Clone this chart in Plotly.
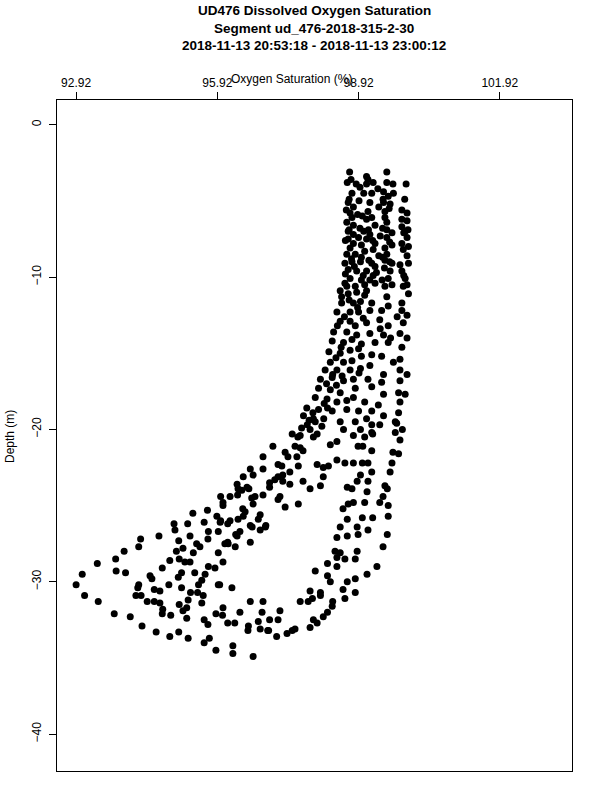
import plotly.graph_objects as go

title_lines = [
    "UD476 Dissolved Oxygen Saturation",
    "Segment ud_476-2018-315-2-30",
    "2018-11-13 20:53:18 - 2018-11-13 23:00:12",
]
x_title = "Oxygen Saturation (%)"
y_title = "Depth (m)"
x_ticks = [92.92, 95.92, 98.92, 101.92]
x_ticktext = ["92.92", "95.92", "98.92", "101.92"]
y_ticks = [0, -10, -20, -30, -40]
y_ticktext = ["0", "\u221210", "\u221220", "\u221230", "\u221240"]

# Oxygen saturation (%) and depth (m)
saturation_upper = [
    98.73, 99.52, 99.09, 98.68, 98.87, 99.09, 99.23, 99.52, 99.65, 99.93,
    98.78, 99.03, 99.20, 99.45, 99.55, 99.66, 98.70, 98.81, 99.16, 99.12,
    99.45, 99.59, 99.48, 99.84, 99.95, 98.74, 98.78, 98.67, 98.81, 99.09,
    99.20, 99.27, 99.48, 99.52, 99.84, 99.95, 99.84, 99.91, 98.70, 98.81,
    99.03, 99.16, 99.52, 99.63, 99.52, 99.95, 99.84, 98.70, 98.81, 98.98,
    99.27, 99.09, 98.74, 98.67, 98.85, 99.05, 99.23, 99.48, 99.63, 99.52,
    99.87, 99.95, 98.78, 98.63, 98.96, 99.20, 99.27, 99.48, 99.63, 99.80,
    99.98, 98.70, 98.88, 99.09, 99.30, 99.59, 99.55, 99.84, 99.91, 98.74,
    98.98, 99.16, 98.67, 98.85, 99.05, 99.27, 99.48, 99.63, 99.87,
    98.76, 98.95, 98.72, 98.93, 98.66, 98.90, 99.00, 98.72, 98.95, 99.13,
    98.64, 98.92, 99.22, 98.77, 98.98, 99.14, 98.64, 98.83, 99.02, 99.23,
    99.44, 99.57, 99.90, 99.97, 99.43, 99.58, 99.88, 99.43, 99.98, 99.47,
    99.88, 99.42, 99.58, 99.35, 99.33, 99.38, 99.35, 99.12,
]
depth_upper = [
    -3.1, -3.1, -3.4, -3.8, -3.9, -3.9, -3.8, -3.8, -3.9, -3.9,
    -4.5, -4.5, -4.5, -4.4, -4.7, -4.5, -5.1, -5.4, -5.1, -5.7,
    -5.1, -5.2, -5.7, -5.6, -5.8, -5.8, -6.1, -6.4, -6.6, -6.2,
    -6.1, -6.6, -6.1, -6.4, -6.2, -6.3, -6.7, -7.0, -7.0, -7.2,
    -7.0, -7.2, -6.9, -7.1, -7.4, -7.4, -7.8, -7.5, -7.8, -7.9,
    -7.8, -7.5, -8.1, -8.5, -8.5, -8.3, -8.2, -8.1, -7.9, -8.5,
    -8.2, -8.6, -9.0, -9.1, -9.0, -9.1, -9.3, -8.9, -9.1, -9.2,
    -9.1, -9.5, -9.6, -9.6, -9.7, -9.6, -10.1, -9.6, -10.1, -10.1,
    -10.2, -10.2, -10.6, -10.6, -10.5, -10.4, -10.6, -10.5, -10.6,
    -3.6, -4.1, -4.9, -5.0, -5.6, -5.9, -6.0, -6.9, -6.8, -6.9,
    -7.6, -7.4, -7.6, -8.8, -8.7, -8.9, -9.8, -9.3, -9.9, -9.9,
    -4.9, -5.5, -4.9, -6.9, -6.8, -7.7, -7.1, -8.7, -8.0, -9.4,
    -9.9, -10.2, -9.0, -5.4, -4.2, -7.3, -8.6, -3.6,
]

saturation_middle = [
    98.63, 99.95, 98.53, 98.70, 98.88, 99.09, 99.52, 99.98, 98.56, 98.81,
    98.96, 99.20, 99.55, 99.84, 98.46, 98.74, 98.92, 99.16, 99.41, 99.84,
    99.95, 98.53, 98.74, 98.85, 99.09, 99.37, 99.55, 99.87, 98.39, 98.67,
    98.88, 99.16, 99.45, 99.80, 99.95, 98.36, 98.60, 98.78, 98.98, 99.27,
    99.55, 99.84, 98.29, 98.53, 98.74, 98.98, 99.20, 99.41, 99.80, 98.78,
    98.60, 98.32, 98.21, 98.46, 98.74, 98.96, 99.16, 99.45, 99.80, 99.95,
    98.11, 98.36, 98.60, 98.81, 99.12, 99.41, 99.80, 98.07, 98.32, 98.53,
    98.85, 99.20, 99.45, 99.77, 99.91, 98.00, 98.25, 98.46, 98.81, 99.05,
    99.34, 99.80, 97.82, 98.07, 98.36, 98.67, 98.92, 99.20, 99.45, 99.77,
    97.75, 97.96, 98.18, 98.53, 98.85, 99.09, 99.37, 99.73, 97.71, 97.89,
    98.14, 98.60, 98.96, 99.20, 99.70, 97.68, 98.04, 98.81,
    98.56, 98.72, 99.05, 98.90, 98.62, 98.47, 99.02, 98.55, 98.44, 98.92,
    98.37, 98.57, 98.24, 98.93, 98.45, 98.19, 98.67, 97.95, 98.26, 97.87,
    99.74, 99.60, 99.66, 99.38,
]
depth_middle = [
    -10.4, -10.5, -10.9, -11.1, -11.0, -10.9, -11.3, -11.1, -11.7, -11.7,
    -11.6, -11.7, -11.9, -11.7, -12.3, -12.3, -12.3, -12.2, -12.2, -12.2,
    -12.5, -12.9, -12.9, -13.2, -13.0, -12.8, -13.2, -13.0, -13.6, -13.6,
    -13.8, -13.7, -13.8, -13.7, -14.0, -14.2, -14.3, -14.1, -14.4, -14.3,
    -14.3, -14.6, -14.9, -15.0, -14.8, -15.2, -15.1, -15.2, -15.4, -15.5,
    -15.6, -15.6, -16.1, -16.1, -16.1, -16.0, -15.8, -16.4, -16.1, -16.4,
    -16.7, -16.6, -16.8, -16.7, -16.7, -16.9, -16.8, -17.3, -17.4, -17.6,
    -17.3, -17.2, -17.7, -17.6, -17.7, -17.9, -18.0, -18.2, -17.9, -18.2,
    -18.4, -18.2, -18.6, -18.7, -18.8, -18.7, -18.8, -18.8, -19.1, -18.9,
    -19.1, -19.3, -19.3, -19.5, -19.5, -19.3, -19.7, -19.6, -19.9, -20.0,
    -19.8, -20.0, -20.0, -20.2, -20.2, -20.4, -20.3, -20.4,
    -11.3, -11.5, -11.2, -12.0, -12.6, -13.2, -12.7, -14.6, -15.3, -14.7,
    -16.4, -16.5, -17.0, -16.3, -17.1, -18.3, -18.1, -18.9, -18.6, -19.4,
    -12.6, -14.0, -15.6, -13.4,
]

saturation_lower_right = [
    97.83, 98.00, 97.51, 97.63, 97.96, 97.10, 97.36, 97.57, 97.68, 97.74,
    97.61, 97.42, 96.89, 97.21, 97.29, 97.64, 97.46, 97.31, 96.62, 96.68,
    96.89, 96.47, 97.03, 97.14, 97.21, 97.31, 97.46, 97.74, 96.36, 96.55,
    96.34, 96.19, 96.04, 96.72, 96.68, 96.89, 97.03, 97.25, 97.21, 97.36,
    97.64, 97.89, 98.11, 98.17, 98.04, 98.28, 96.83, 96.79, 96.51, 96.47,
    96.19, 96.36, 96.66, 96.83, 96.94, 96.34, 96.40, 96.14, 96.08, 96.30,
    96.62, 96.04, 96.23, 95.97, 98.32, 98.46, 98.46, 98.17, 98.91, 99.05,
    98.63, 98.81, 99.00, 98.96, 98.89, 99.12, 98.68, 98.78, 99.10, 98.70,
    98.59, 98.81, 99.05, 99.22, 99.00, 98.68, 98.53, 98.89, 99.12, 98.46,
    98.68, 98.91, 98.42, 98.63, 98.85, 98.89, 98.53, 98.46, 98.26, 98.00,
    98.46, 98.26, 98.32, 98.68, 98.85, 98.59, 98.11, 97.89, 97.94, 98.11,
    97.68, 97.85, 98.36, 98.26, 98.17, 97.96, 98.04, 97.89, 97.57, 97.51,
    97.40, 97.18, 96.99, 96.83, 96.57, 96.40, 96.62, 96.89, 96.87, 97.25,
    97.21, 97.03, 96.29, 96.14, 96.04, 96.25, 96.25, 96.68, 99.10, 99.31,
    99.44, 99.53, 99.55, 99.37, 99.44, 99.48, 99.59, 99.63, 99.80, 99.85,
    99.20, 99.22, 99.01, 99.20, 99.12, 99.20, 98.85, 98.63, 98.37, 99.70,
    99.77, 99.65, 99.53, 99.55,
]
depth_lower_right = [
    -19.7, -19.5, -20.3, -20.5, -20.5, -21.1, -21.5, -21.1, -21.2, -21.4,
    -21.8, -21.8, -21.8, -22.3, -22.4, -22.4, -22.8, -23.0, -22.6, -23.0,
    -22.6, -23.1, -23.5, -23.3, -23.1, -23.4, -23.6, -23.4, -23.9, -23.8,
    -23.6, -24.4, -24.8, -24.4, -24.9, -24.3, -23.8, -24.4, -24.6, -25.1,
    -24.9, -23.9, -23.7, -23.1, -22.3, -22.4, -25.6, -25.9, -25.4, -25.7,
    -26.0, -25.9, -26.4, -26.6, -26.4, -27.0, -26.7, -27.4, -27.5, -27.7,
    -27.4, -28.7, -30.4, -30.2, -21.0, -20.8, -22.0, -22.5, -21.1, -20.5,
    -22.2, -22.2, -22.2, -23.0, -23.4, -23.4, -23.8, -23.9, -24.1, -24.9,
    -25.2, -24.8, -24.8, -25.8, -25.8, -25.9, -26.4, -26.4, -26.6, -27.1,
    -27.0, -26.9, -28.0, -28.5, -28.5, -28.0, -28.1, -28.4, -28.8, -29.3,
    -29.0, -29.6, -30.0, -30.0, -29.8, -30.5, -30.7, -30.6, -31.1, -30.9,
    -31.3, -31.3, -31.6, -32.0, -32.3, -32.5, -32.7, -33.0, -33.1, -33.2,
    -33.4, -33.6, -33.2, -33.1, -33.2, -32.0, -31.3, -31.3, -32.0, -31.9,
    -32.5, -32.5, -32.7, -32.7, -31.7, -34.2, -34.7, -34.9, -29.5, -29.0,
    -27.7, -26.9, -25.7, -24.8, -24.4, -23.7, -22.8, -22.2, -20.7, -20.0,
    -19.7, -20.3, -21.1, -21.4, -22.2, -22.8, -30.7, -31.1, -31.3, -19.5,
    -21.6, -21.5, -23.9, -25.0,
]

saturation_lower_left = [
    96.44, 96.59, 96.35, 95.99, 96.04, 96.65, 96.46, 95.71, 95.40, 95.91,
    95.99, 96.14, 95.64, 95.29, 95.00, 95.02, 95.73, 95.94, 96.31, 96.62,
    94.68, 94.29, 95.34, 95.98, 96.95, 94.25, 93.94, 93.76, 93.37, 93.05,
    92.92, 93.10, 93.39, 93.77, 93.97, 93.73, 94.07, 94.32, 94.62, 94.91,
    95.10, 95.30, 95.64, 95.75, 95.89, 95.10, 95.19, 95.05, 95.48, 95.55,
    95.41, 95.72, 95.94, 96.15, 95.87, 95.73, 95.66, 95.59, 95.52, 94.91,
    95.11, 95.23, 95.34, 95.44, 95.16, 95.09, 94.75, 94.49, 94.53, 94.89,
    95.16, 95.35, 95.50, 95.62, 95.59, 95.30, 95.11, 95.27, 95.19, 94.76,
    94.75, 94.93, 94.70, 94.58, 94.43, 94.58, 94.70, 94.25, 94.23, 94.19,
    94.30, 95.27, 95.64, 95.72, 95.89, 96.03, 96.58, 96.79, 97.01, 95.94,
]
depth_lower_left = [
    -24.0, -23.9, -24.3, -24.4, -25.0, -24.5, -25.2, -25.3, -25.5, -25.7,
    -26.0, -26.2, -26.1, -26.2, -26.2, -26.6, -26.7, -26.7, -26.9, -26.3,
    -27.0, -27.2, -27.0, -26.1, -26.3, -27.7, -28.0, -28.5, -28.8, -29.5,
    -30.2, -30.9, -31.3, -29.3, -29.4, -32.1, -32.3, -32.9, -33.3, -33.6,
    -33.3, -33.7, -34.0, -33.7, -34.5, -27.3, -27.8, -28.0, -27.5, -27.7,
    -28.1, -27.2, -28.1, -27.5, -29.1, -29.0, -29.5, -29.9, -30.2, -28.6,
    -28.5, -28.7, -28.7, -29.4, -29.4, -29.7, -29.1, -29.6, -29.8, -30.2,
    -30.4, -30.7, -30.7, -30.9, -31.4, -31.2, -31.5, -31.7, -31.9, -31.8,
    -32.1, -32.2, -31.4, -31.3, -31.3, -30.5, -30.6, -30.2, -30.4, -30.9,
    -30.9, -32.4, -32.5, -32.8, -32.1, -32.2, -32.9, -32.6, -33.2, -30.2,
]

saturation = saturation_upper + saturation_middle + saturation_lower_right + saturation_lower_left
depth = depth_upper + depth_middle + depth_lower_right + depth_lower_left

font_family = "Liberation Sans, Arial, Helvetica, sans-serif"

fig = go.Figure()
fig.add_trace(go.Scatter(
    x=saturation, y=depth, mode="markers",
    marker=dict(color="black", size=7, line=dict(width=0)),
    showlegend=False, hoverinfo="x+y",
))

plot_top, plot_bottom, plot_left, plot_right = 100, 771, 57, 572
ph = plot_bottom - plot_top
pw = plot_right - plot_left

def py(p):
    return (plot_bottom - p) / ph

def px(p):
    return (p - plot_left) / pw

annotations = []
for line, ypix in zip(title_lines, [10.5, 28, 45.5]):
    annotations.append(dict(
        text="<b>" + line + "</b>", x=px(314), y=py(ypix), xref="paper", yref="paper",
        xanchor="center", yanchor="middle", showarrow=False,
        font=dict(family=font_family, size=13.5, color="black"),
    ))
annotations.append(dict(
    text=x_title, x=px(229), y=py(79), xref="paper", yref="paper",
    xanchor="left", yanchor="middle", showarrow=False,
    font=dict(family=font_family, size=12, color="black"),
))
annotations.append(dict(
    text=y_title, x=px(10), y=py(437), xref="paper", yref="paper",
    xanchor="center", yanchor="middle", showarrow=False, textangle=-90,
    font=dict(family=font_family, size=12, color="black"),
))

fig.update_layout(
    width=600, height=800,
    margin=dict(l=plot_left, r=600 - plot_right, t=plot_top, b=800 - plot_bottom, pad=0),
    paper_bgcolor="white", plot_bgcolor="white",
    font=dict(family=font_family, size=12, color="black"),
    annotations=annotations,
    xaxis=dict(
        range=[92.514, 103.454], side="top",
        tickvals=x_ticks, ticktext=x_ticktext,
        ticks="outside", ticklen=7, tickwidth=1, tickcolor="black",
        showline=True, linecolor="black", linewidth=1, mirror=True,
        showgrid=False, zeroline=False,
        tickfont=dict(family=font_family, size=12, color="black"),
    ),
    yaxis=dict(
        range=[-42.42, 1.62],
        tickvals=y_ticks, ticktext=y_ticktext, tickangle=-90,
        ticks="outside", ticklen=7, tickwidth=1, tickcolor="black",
        ticklabelstandoff=3,
        showline=True, linecolor="black", linewidth=1, mirror=True,
        showgrid=False, zeroline=False,
        tickfont=dict(family=font_family, size=12, color="black"),
    ),
)

fig.write_html(
    "out.html",
    config={"displayModeBar": False},
    post_script="document.body.style.margin='0';document.body.style.padding='0';",
)
